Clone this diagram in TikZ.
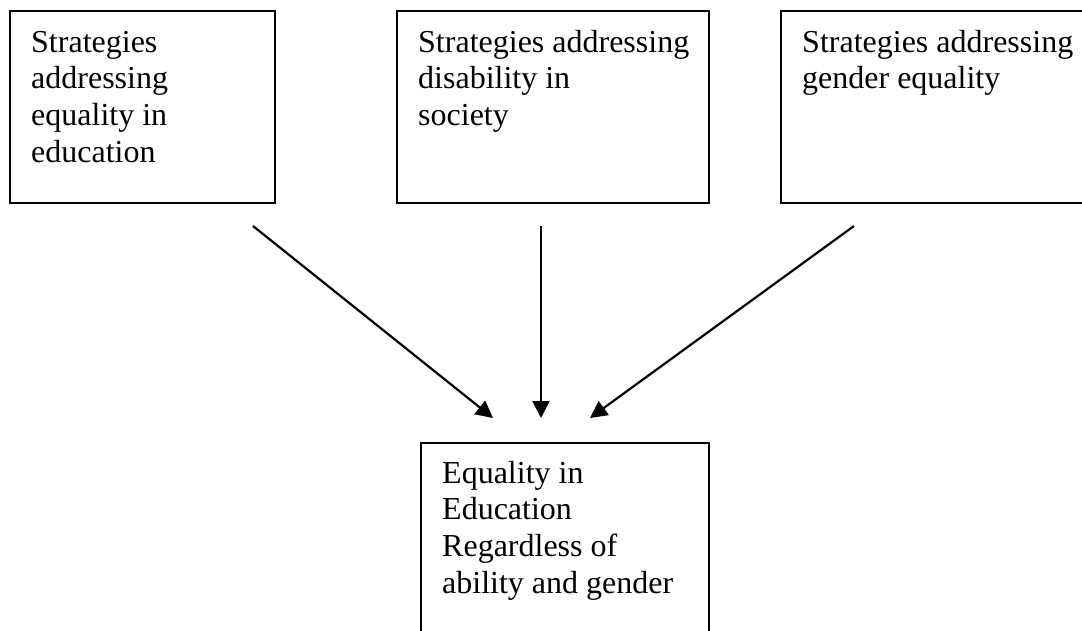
\documentclass[tikz,border=0pt]{standalone}
\usepackage{fontspec}
\setmainfont{Liberation Serif}
\usetikzlibrary{arrows.meta,positioning}
\newcommand{\boxlines}[1]{\begin{tabular}[t]{@{}l@{}}#1\end{tabular}}
\begin{document}
\begin{tikzpicture}[x=1pt,y=-1pt,
  boxframe/.style={draw=black,line width=2.2pt},
  boxtext/.style={anchor=base west,inner sep=0pt,font=\fontsize{32}{36.7}\selectfont},
  flow/.style={line width=2.2pt,-{Triangle[length=17pt,width=17pt]}}]
\useasboundingbox (0,0) rectangle (1082,630);
\clip (0,0) rectangle (1082,630);
% boxes
\draw[boxframe] (10,11) rectangle (275,203);
\draw[boxframe] (397,11) rectangle (709,203);
\draw[boxframe] (781,11) rectangle (1100,203);
\draw[boxframe] (421,443) rectangle (709,650);
% texts
\node[boxtext] (t1) at (31,52) {\boxlines{Strategies\\addressing\\equality in\\education}};
\node[boxtext] (t2) at (418,52) {\boxlines{Strategies addressing\\disability in\\society}};
\node[boxtext] (t3) at (802,52) {\boxlines{Strategies addressing\\gender equality}};
\node[boxtext] (t4) at (442,483) {\boxlines{Equality in\\Education\\Regardless of\\ability and gender}};
% arrows
\coordinate (s1) at (253,226);
\coordinate (e1) at (493,418);
\coordinate (s2) at (541,226);
\coordinate (e2) at (541,418);
\coordinate (s3) at (854,226);
\coordinate (e3) at (590,418);
\draw[flow] (s1) -- (e1);
\draw[flow] (s2) -- (e2);
\draw[flow] (s3) -- (e3);
\end{tikzpicture}
\end{document}
